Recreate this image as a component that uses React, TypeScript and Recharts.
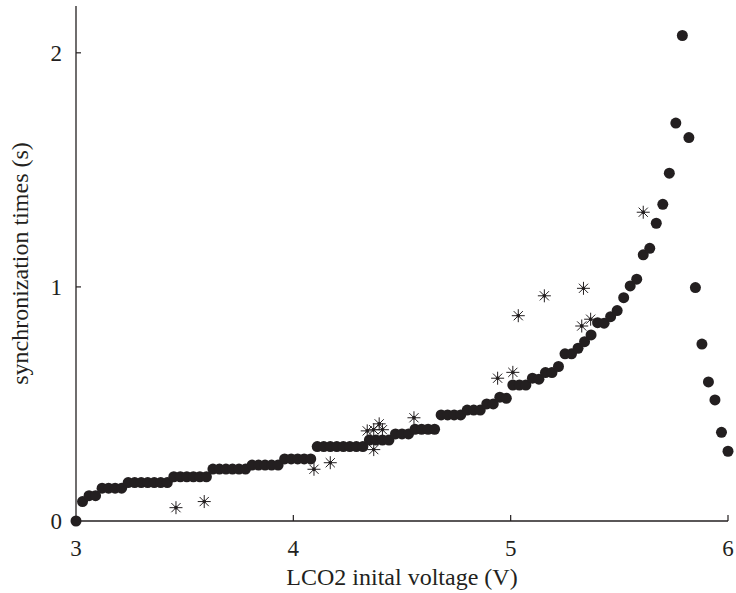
import { ScatterChart, Scatter, XAxis, YAxis, Label } from "recharts";

// measured points (circles)
const voltage = [
  3.0, 3.03, 3.06, 3.09, 3.12, 3.15, 3.18, 3.21, 3.24, 3.27,
  3.3, 3.33, 3.36, 3.39, 3.42, 3.45, 3.48, 3.51, 3.54, 3.57,
  3.6, 3.63, 3.66, 3.69, 3.72, 3.75, 3.78, 3.81, 3.84, 3.87,
  3.9, 3.93, 3.96, 3.99, 4.02, 4.05, 4.08, 4.11, 4.14, 4.17,
  4.2, 4.23, 4.26, 4.29, 4.32, 4.35, 4.38, 4.41, 4.44, 4.47,
  4.5, 4.53, 4.56, 4.59, 4.62, 4.65, 4.68, 4.71, 4.74, 4.77,
  4.8, 4.83, 4.86, 4.89, 4.92, 4.95, 4.98, 5.01, 5.04, 5.07,
  5.1, 5.13, 5.16, 5.19, 5.22, 5.25, 5.28, 5.31, 5.34, 5.37,
  5.4, 5.43, 5.46, 5.49, 5.52, 5.55, 5.58, 5.61, 5.64, 5.67,
  5.7, 5.73, 5.76, 5.79, 5.82, 5.85, 5.88, 5.91, 5.94, 5.97, 6.0,
];
const syncTime = [
  0, 0.083, 0.108, 0.108, 0.14, 0.14, 0.14, 0.14, 0.164, 0.164,
  0.164, 0.164, 0.164, 0.164, 0.164, 0.189, 0.189, 0.189, 0.189, 0.189,
  0.189, 0.222, 0.222, 0.222, 0.222, 0.222, 0.222, 0.239, 0.239, 0.239,
  0.239, 0.239, 0.265, 0.265, 0.265, 0.265, 0.265, 0.318, 0.318, 0.318,
  0.318, 0.318, 0.318, 0.318, 0.318, 0.346, 0.346, 0.346, 0.346, 0.372,
  0.372, 0.372, 0.392, 0.392, 0.392, 0.392, 0.453, 0.453, 0.453, 0.453,
  0.474, 0.474, 0.474, 0.5, 0.5, 0.529, 0.524, 0.581, 0.581, 0.581,
  0.61, 0.606, 0.634, 0.634, 0.66, 0.714, 0.714, 0.738, 0.766, 0.795,
  0.847, 0.845, 0.873, 0.899, 0.954, 1.004, 1.033, 1.137, 1.165, 1.272,
  1.353, 1.486, 1.7, 2.074, 1.638, 0.997, 0.756, 0.594, 0.517, 0.379, 0.298,
];

// asterisk points
const starVoltage = [
  3.46, 3.59, 4.095, 4.17, 4.34, 4.37, 4.395, 4.41, 4.37,
  4.555, 4.94, 5.01, 5.035, 5.155, 5.335, 5.327, 5.368, 5.61,
];
const starTime = [
  0.057, 0.083, 0.221, 0.249, 0.385, 0.39, 0.415, 0.39, 0.305,
  0.441, 0.61, 0.635, 0.877, 0.962, 0.994, 0.833, 0.862, 1.319,
];

const xTicks = [3, 4, 5, 6];
const yTicks = [0, 1, 2];

const ink = "#231f20";
const font = "'Liberation Serif', 'DejaVu Serif', serif";

const dots = voltage.map((v, i) => ({ v, t: syncTime[i] }));
const stars = starVoltage.map((v, i) => ({ v, t: starTime[i] }));

const Dot = (props: any) => <circle cx={props.cx} cy={props.cy} r={5.5} fill={ink} />;

const Asterisk = (props: any) => {
  const { cx, cy } = props;
  const r = 6.5;
  const d = r * 0.7071;
  return (
    <g stroke={ink} strokeWidth={1}>
      <line x1={cx - r} y1={cy} x2={cx + r} y2={cy} />
      <line x1={cx} y1={cy - r} x2={cx} y2={cy + r} />
      <line x1={cx - d} y1={cy - d} x2={cx + d} y2={cy + d} />
      <line x1={cx - d} y1={cy + d} x2={cx + d} y2={cy - d} />
      <circle cx={cx} cy={cy} r={1.4} fill={ink} />
    </g>
  );
};

const XTick = (props: any) => {
  const { x, y, payload } = props;
  return (
    <g>
      {payload.value !== 3 && <line x1={x} y1={y} x2={x} y2={y - 6} stroke={ink} strokeWidth={1.2} />}
      <text x={x} y={y + 35} textAnchor="middle" fill={ink} fontSize={23} fontFamily={font}>
        {payload.value}
      </text>
    </g>
  );
};

const YTick = (props: any) => {
  const { x, y, payload } = props;
  return (
    <g>
      {payload.value !== 0 && <line x1={x + 14} y1={y} x2={x + 19} y2={y} stroke={ink} strokeWidth={1.2} />}
      <text x={x} y={y + 8} textAnchor="end" fill={ink} fontSize={23} fontFamily={font}>
        {payload.value}
      </text>
    </g>
  );
};

export default function App() {
  return (
    <div style={{ position: "absolute", left: 0, top: 0, background: "#fff" }}>
      <ScatterChart width={736} height={593} margin={{ top: 6, right: 8, bottom: 0, left: 0 }}>
        <XAxis
          type="number"
          dataKey="v"
          domain={[3, 6]}
          ticks={xTicks}
          height={72}
          tickSize={0}
          tickMargin={0}
          tickLine={false}
          tick={<XTick />}
          axisLine={{ stroke: ink, strokeWidth: 1.3 }}
        >
          <Label
            value="LCO2 inital voltage (V)"
            position="insideBottom"
            offset={8}
            style={{ fontSize: 24, fontFamily: font, fill: ink }}
          />
        </XAxis>
        <YAxis
          type="number"
          dataKey="t"
          domain={[0, 2.2]}
          ticks={yTicks}
          width={76}
          tickSize={0}
          tickMargin={14}
          tickLine={false}
          tick={<YTick />}
          axisLine={{ stroke: ink, strokeWidth: 1.3 }}
        >
          <Label
            value="synchronization times (s)"
            angle={-90}
            position="insideLeft"
            offset={19}
            style={{ fontSize: 24, fontFamily: font, fill: ink, textAnchor: "middle" }}
          />
        </YAxis>
        <Scatter data={dots} shape={<Dot />} isAnimationActive={false} />
        <Scatter data={stars} shape={<Asterisk />} isAnimationActive={false} />
      </ScatterChart>
    </div>
  );
}
